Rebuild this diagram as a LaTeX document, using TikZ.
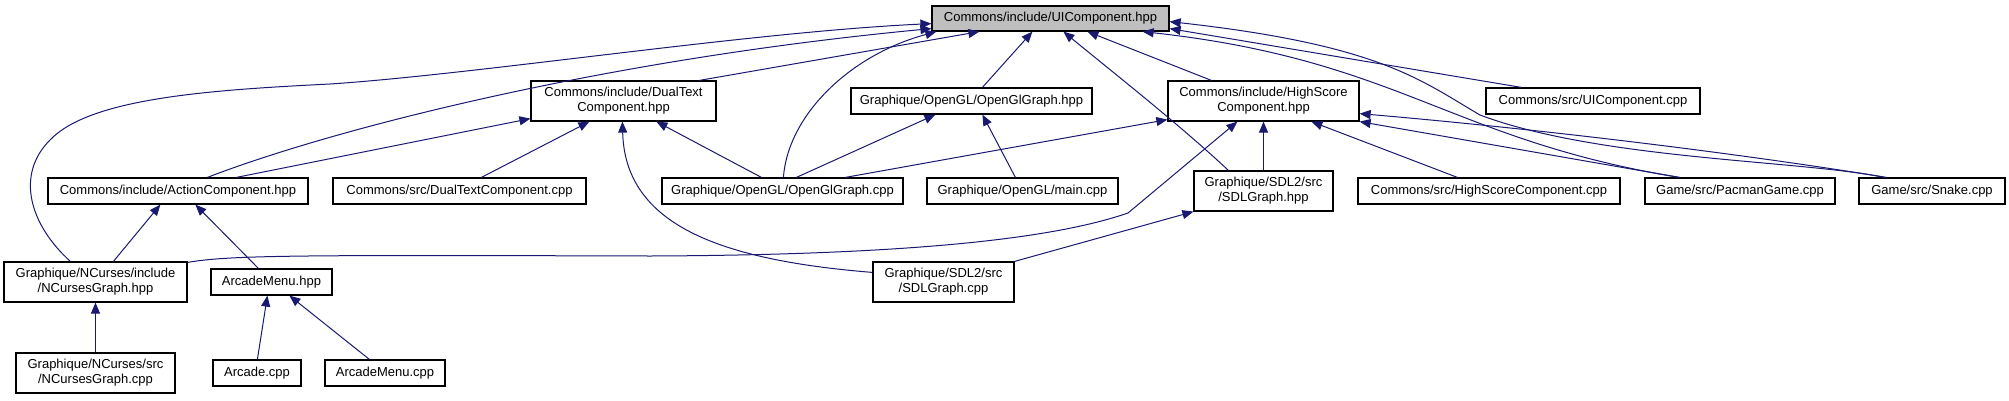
\documentclass[tikz,border=0pt]{standalone}
\usepackage{fontspec}
\setmainfont{Liberation Sans}
\usetikzlibrary{arrows.meta}
\definecolor{edgeblue}{HTML}{191970}
\definecolor{rootgray}{HTML}{BFBFBF}
\begin{document}
\begin{tikzpicture}[x=1pt,y=-1pt,
  box/.style={draw=black, fill=white, line width=1.2pt, inner sep=0pt, align=center,
    font=\fontsize{13}{15}\selectfont, minimum height=26pt},
  tall/.style={minimum height=40pt},
  dep/.style={draw=edgeblue, line width=1pt, -{Triangle[length=11pt,width=9pt]}}]
\useasboundingbox (0,0) rectangle (2009,400);

% rank 0
\node[box, fill=rootgray, minimum width=237pt, minimum height=25pt] (ui) at (1050.5,18.5) {Commons/include/UIComponent.hpp};
% rank 1
\node[box, tall, minimum width=185pt] (dual) at (623.5,101) {Commons/include/DualText\\Component.hpp};
\node[box, minimum width=241pt] (oglh) at (971.5,101) {Graphique/OpenGL/OpenGlGraph.hpp};
\node[box, tall, minimum width=191pt] (hs) at (1263.5,101) {Commons/include/HighScore\\Component.hpp};
\node[box, minimum width=214pt] (uicpp) at (1593,101) {Commons/src/UIComponent.cpp};
% rank 2
\node[box, minimum width=260pt] (act) at (178,191) {Commons/include/ActionComponent.hpp};
\node[box, minimum width=253pt] (dualcpp) at (459.5,191) {Commons/src/DualTextComponent.cpp};
\node[box, minimum width=241pt] (oglcpp) at (782.5,191) {Graphique/OpenGL/OpenGlGraph.cpp};
\node[box, minimum width=191pt] (maincpp) at (1022.5,191) {Graphique/OpenGL/main.cpp};
\node[box, tall, minimum width=139pt] (sdlh) at (1263.5,191) {Graphique/SDL2/src\\/SDLGraph.hpp};
\node[box, minimum width=262pt] (hscpp) at (1489,191) {Commons/src/HighScoreComponent.cpp};
\node[box, minimum width=190pt] (pac) at (1740,191) {Game/src/PacmanGame.cpp};
\node[box, minimum width=146pt] (snake) at (1932,191) {Game/src/Snake.cpp};
% rank 3
\node[box, tall, minimum width=183pt] (ncgh) at (95.5,282) {Graphique/NCurses/include\\/NCursesGraph.hpp};
\node[box, minimum width=121pt] (amh) at (271.5,282) {ArcadeMenu.hpp};
\node[box, tall, minimum width=141pt] (sdlcpp) at (943.5,282) {Graphique/SDL2/src\\/SDLGraph.cpp};
% rank 4
\node[box, tall, minimum width=159pt] (ncgcpp) at (95.5,373) {Graphique/NCurses/src\\/NCursesGraph.cpp};
\node[box, minimum width=88pt] (arc) at (257,373) {Arcade.cpp};
\node[box, minimum width=120pt] (amcpp) at (385,373) {ArcadeMenu.cpp};

% edges into UIComponent
\draw[dep] ([xshift=169pt]dual.north west) -- ([xshift=48pt]ui.south west);
\draw[dep] ([xshift=160pt]act.north west) .. controls (330,130) and (600,60) .. ([yshift=3pt]ui.south west);
\draw[dep] ([xshift=67pt]ncgh.north west) .. controls (30,225) and (15,175) .. (50,140)
   .. controls (90,98) and (210,90) .. (330,84)
   .. controls (480,74) and (750,32) .. ([yshift=8pt]ui.south west);
\draw[dep] ([xshift=122pt]oglcpp.north west) .. controls (788,115) and (850,55) .. ([xshift=5pt]ui.south west);
\draw[dep] ([xshift=132pt]oglh.north west) -- ([xshift=101pt]ui.south west);
\draw[dep] ([xshift=35pt]sdlh.north west) .. controls (1180,125) and (1110,70) .. ([xshift=132pt]ui.south west);
\draw[dep] ([xshift=44pt]hs.north west) -- ([xshift=156pt]ui.south west);
\draw[dep] ([xshift=36pt]uicpp.north west) -- ([yshift=3pt]ui.south east);
\draw[dep] ([xshift=35pt]pac.north west) .. controls (1450,140) and (1400,60) .. ([xshift=-27pt]ui.south east);
\draw[dep] ([xshift=26pt]snake.north west) .. controls (1800,160) and (1600,160) .. (1480,115)
   .. controls (1420,80) and (1380,45) .. ([yshift=10pt]ui.south east);

% edges into DualText
\draw[dep] ([xshift=189pt]act.north west) -- ([yshift=3pt]dual.south west);
\draw[dep] ([xshift=149pt]dualcpp.north west) -- ([xshift=59pt]dual.south west);
\draw[dep] ([xshift=100pt]oglcpp.north west) -- ([xshift=126pt]dual.south west);
\draw[dep] ([yshift=-11pt]sdlcpp.north west) .. controls (720,260) and (625,225) .. ([xshift=92pt]dual.south west);

% edges into OpenGlGraph.hpp
\draw[dep] ([xshift=135pt]oglcpp.north west) -- ([xshift=85pt]oglh.south west);
\draw[dep] ([xshift=89pt]maincpp.north west) -- ([xshift=132pt]oglh.south west);

% edges into HighScore
\draw[dep] ([xshift=184pt]oglcpp.north west) -- ([yshift=2pt]hs.south west);
\draw[dep] ([yshift=-1pt]ncgh.north east) .. controls (230,255) and (300,255) .. (650,256)
   .. controls (900,255) and (1050,240) .. (1128,213) -- ([xshift=70pt]hs.south west);
\draw[dep] (sdlh.north) -- (hs.south);
\draw[dep] ([xshift=100pt]hscpp.north west) -- ([xshift=144pt]hs.south west);
\draw[dep] ([xshift=35pt]pac.north west) -- (hs.south east);
\draw[dep] ([xshift=28pt]snake.north west) .. controls (1750,155) and (1550,130) .. ([yshift=8pt]hs.south east);

% edges into ActionComponent
\draw[dep] ([xshift=110pt]ncgh.north west) -- ([xshift=113pt]act.south west);
\draw[dep] ([xshift=48pt]amh.north west) -- ([xshift=148pt]act.south west);

% others
\draw[dep] (sdlcpp.north east) -- (sdlh.south west);
\draw[dep] (ncgcpp.north) -- (ncgh.south);
\draw[dep] ([xshift=45pt]arc.north west) -- ([xshift=57pt]amh.south west);
\draw[dep] ([xshift=45pt]amcpp.north west) -- ([xshift=79pt]amh.south west);
\end{tikzpicture}
\end{document}
